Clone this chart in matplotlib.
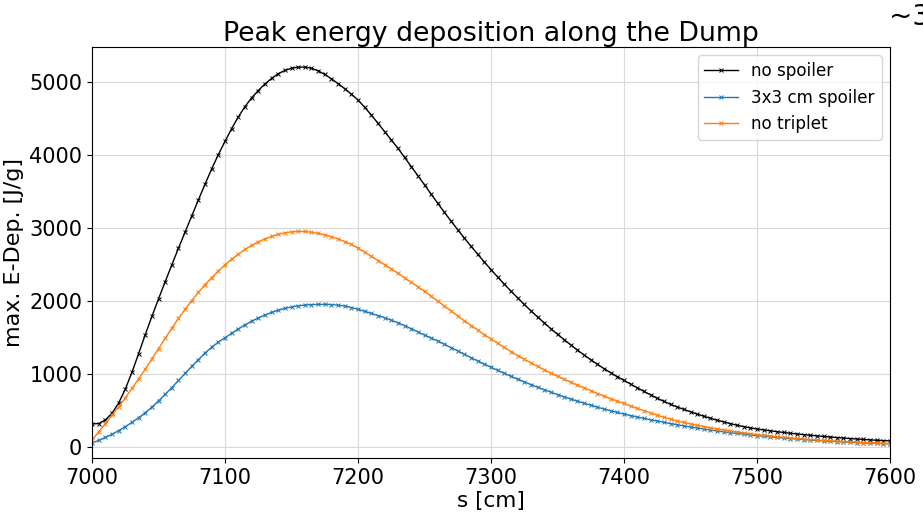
"""
Peak energy deposition along the dump for three beam-line configurations.
"""

import matplotlib

matplotlib.use("Agg")
import matplotlib.pyplot as plt
import numpy as np

# longitudinal position along the dump, every 5 cm
s_cm = np.arange(7000, 7605, 5)

no_spoiler = [
    320, 325, 375, 465, 605, 795, 1025, 1280, 1540, 1790,
    2030, 2265, 2495, 2725, 2945, 3165, 3385, 3600, 3810, 4005,
    4185, 4360, 4520, 4660, 4780, 4880, 4970, 5045, 5110, 5155,
    5185, 5200, 5200, 5185, 5150, 5100, 5040, 4975, 4905, 4830,
    4750, 4650, 4545, 4432, 4318, 4204, 4090, 3965, 3840, 3715,
    3590, 3462, 3336, 3213, 3093, 2976, 2861, 2749, 2640, 2534,
    2430, 2329, 2231, 2136, 2044, 1954, 1867, 1783, 1702, 1623,
    1545, 1472, 1400, 1330, 1262, 1198, 1136, 1076, 1020, 966,
    915, 864, 814, 765, 717, 671, 628, 588, 552, 518,
    486, 455, 425, 397, 371, 347, 324, 302, 283, 266,
    251, 238, 226, 214, 203, 193, 183, 174, 165, 157,
    149, 141, 134, 127, 120, 114, 108, 102, 97, 92,
    88,
]

spoiler_3x3 = [
    60, 95, 135, 178, 228, 282, 341, 405, 473, 550,
    635, 725, 818, 915, 1012, 1108, 1200, 1290, 1370, 1440,
    1500, 1560, 1620, 1675, 1725, 1770, 1810, 1845, 1875, 1900,
    1920, 1935, 1946, 1952, 1955, 1955, 1952, 1945, 1932, 1912,
    1888, 1860, 1832, 1802, 1772, 1738, 1704, 1664, 1622, 1579,
    1535, 1495, 1454, 1409, 1363, 1318, 1272, 1226, 1182, 1138,
    1095, 1053, 1012, 972, 933, 895, 858, 822, 788, 754,
    722, 690, 660, 631, 603, 576, 549, 524, 500, 477,
    455, 434, 414, 395, 377, 359, 342, 325, 309, 293,
    278, 264, 250, 237, 224, 212, 201, 190, 180, 170,
    161, 152, 143, 135, 127, 120, 113, 106, 100, 94,
    88, 83, 78, 73, 69, 65, 61, 57, 53, 50,
    47,
]

no_triplet = [
    100, 210, 325, 440, 555, 675, 805, 935, 1070, 1210,
    1350, 1490, 1630, 1763, 1889, 2008, 2120, 2225, 2322, 2413,
    2497, 2574, 2643, 2706, 2761, 2810, 2851, 2886, 2913, 2934,
    2947, 2953, 2952, 2942, 2926, 2905, 2880, 2850, 2815, 2775,
    2725, 2670, 2612, 2555, 2498, 2440, 2380, 2318, 2256, 2195,
    2132, 2066, 2000, 1932, 1864, 1796, 1730, 1666, 1604, 1542,
    1482, 1423, 1366, 1310, 1256, 1205, 1155, 1107, 1060, 1015,
    972, 930, 890, 851, 813, 777, 735, 700, 665, 632,
    600, 565, 532, 500, 470, 440, 412, 385, 360, 340,
    320, 302, 285, 268, 253, 238, 224, 211, 198, 186,
    175, 165, 155, 146, 137, 129, 121, 114, 107, 101,
    95, 89, 84, 79, 74, 70, 66, 62, 58, 55,
    52,
]

series = [
    ("no spoiler", no_spoiler, "black"),
    ("3x3 cm spoiler", spoiler_3x3, "tab:blue"),
    ("no triplet", no_triplet, "tab:orange"),
]

figure = plt.figure(figsize=(9.23, 5.19), dpi=100)
axis = figure.add_axes([0.0997, 0.1175, 0.8646, 0.7919])

for label, values, color in series:
    axis.plot(
        s_cm,
        values,
        color=color,
        linewidth=1.0,
        marker="x",
        markersize=3,
        markeredgewidth=0.7,
        label=label,
    )

axis.set_xlim(7000, 7600)
axis.set_ylim(-146, 5475)
axis.set_xticks(np.arange(7000, 7601, 100))
axis.set_yticks(np.arange(0, 5001, 1000))
axis.tick_params(labelsize=15)

axis.set_xlabel("s [cm]", fontsize=15.5, labelpad=2)
axis.set_ylabel("max. E-Dep. [J/g]", fontsize=16)
axis.set_title("Peak energy deposition along the Dump", fontsize=19.3, pad=3)
axis.grid(color="#d9d9d9", linewidth=0.8)

axis.legend(loc="upper right", fontsize=12.1)

# label running off the right edge, as in the original slide
figure.text(0.963, 0.967, "~3", fontsize=20, va="center", ha="left")

figure.savefig("out.png", dpi=100)
plt.close(figure)
